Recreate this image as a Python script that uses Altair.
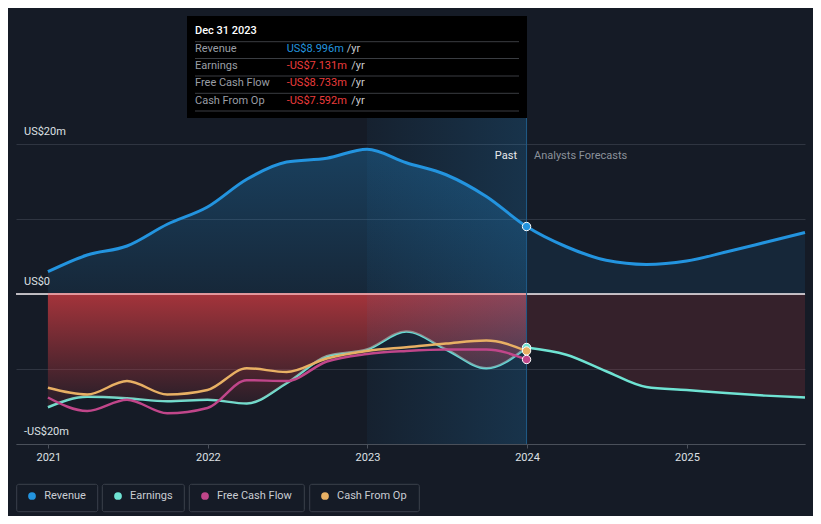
import altair as alt
import pandas as pd

# ---------------- data (US$ millions) ----------------
past_dates = ["2020-12-31", "2021-03-31", "2021-06-30", "2021-09-30", "2021-12-31",
              "2022-03-31", "2022-06-30", "2022-09-30", "2022-12-31", "2023-03-31",
              "2023-06-30", "2023-09-30", "2023-12-31"]
revenue_past = [2.97, 5.2, 6.4, 9.3, 11.6, 15.3, 17.6, 18.1, 19.3, 17.5, 15.9, 13.0, 8.996]
earnings_past = [-15.1, -13.7, -13.9, -14.3, -14.1, -14.6, -11.9, -8.3, -7.4, -5.0, -7.4, -9.9, -7.131]
fcf_past = [-13.8, -15.6, -14.1, -15.9, -15.2, -11.5, -11.6, -9.0, -8.0, -7.6, -7.4, -7.4, -8.733]
cfo_past = [-12.5, -13.4, -11.6, -13.4, -12.8, -9.9, -10.4, -8.6, -7.6, -7.1, -6.6, -6.2, -7.592]

fc_dates = ["2023-12-31", "2024-03-31", "2024-06-30", "2024-09-30", "2024-12-31",
            "2025-03-31", "2025-06-30", "2025-09-28"]
revenue_fc = [8.996, 6.3, 4.5, 3.95, 4.4, 5.6, 6.9, 8.2]
earnings_fc = [-7.131, -8.1, -10.3, -12.4, -12.8, -13.2, -13.55, -13.8]

series_names = ["Revenue", "Earnings", "Free Cash Flow", "Cash From Op"]
series_colors = ["#2394df", "#6fe3d3", "#c0468a", "#e8b064"]

y_label_values = [20, 0, -20]
y_label_texts = ["US$20m", "US$0", "-US$20m"]

tooltip_title = "Dec 31 2023"
tooltip_values = ["US$8.996m", "-US$7.131m", "-US$8.733m", "-US$7.592m"]
tooltip_value_colors = ["#2394df", "#ec3c3c", "#ec3c3c", "#ec3c3c"]

# ---------------- layout ----------------
W, H = 789, 428
PX_PER_M = 7.5
Y_BOTTOM = -20
Y_TOP = Y_BOTTOM + H / PX_PER_M
BG = "#151b26"
FONT = "Roboto"


def dt(s):
    return s + "T00:00:00"


x_scale = alt.Scale(domain=[alt.DateTime(year=2020, month=10, date=19),
                            alt.DateTime(year=2025, month=9, date=28)])
y_scale = alt.Scale(domain=[Y_BOTTOM, Y_TOP], nice=False, zero=False)
x_axis = alt.Axis(values=[alt.DateTime(year=y, month=1, date=1) for y in range(2021, 2026)],
                  format="%Y", title=None, grid=False, labelColor="#dde0e4",
                  labelFontSize=11, labelFont=FONT, domainColor="#4a505a",
                  tickColor="#4a505a", tickSize=4, labelPadding=3)
y_axis = alt.Axis(values=[-20, -10, 0, 10, 20], title=None, grid=True,
                  gridColor="#2f3541", gridWidth=1, labels=False, ticks=False, domain=False)


def X(field="date"):
    return alt.X(f"{field}:T", scale=x_scale, axis=x_axis, title=None)


def Y(field):
    return alt.Y(f"{field}:Q", scale=y_scale, axis=y_axis, title=None)


df_past = pd.DataFrame({
    "date": [dt(d) for d in past_dates],
    "revenue": revenue_past,
    "earnings": earnings_past,
    "fcf": fcf_past,
    "cfo": cfo_past,
    "zero": [0] * len(past_dates),
})
df_fc = pd.DataFrame({
    "date": [dt(d) for d in fc_dates],
    "revenue": revenue_fc,
    "earnings": earnings_fc,
    "zero": [0] * len(fc_dates),
})
df_rev = pd.DataFrame({
    "date": [dt(d) for d in past_dates] + [dt(d) for d in fc_dates[1:]],
    "revenue": revenue_past + revenue_fc[1:],
})

base_past = alt.Chart(df_past)
base_fc = alt.Chart(df_fc)


def vgrad(c0, c1):
    return alt.Gradient(gradient="linear", x1=0, x2=0, y1=0, y2=1,
                        stops=[alt.GradientStop(color=c0, offset=0),
                               alt.GradientStop(color=c1, offset=1)])


rev_area_past = base_past.mark_area(interpolate="monotone",
                                    color=vgrad("rgba(35,148,223,0.30)", "rgba(35,148,223,0.10)")
                                    ).encode(x=X(), y=Y("revenue"), y2="zero:Q")
rev_area_fc = base_fc.mark_area(interpolate="monotone", color="#2394df", opacity=0.1
                                ).encode(x=X(), y=Y("revenue"), y2="zero:Q")

earn_line_past = base_past.mark_line(interpolate="monotone", color=series_colors[1], strokeWidth=2.5
                                     ).encode(x=X(), y=Y("earnings"))
red_area_past = base_past.mark_area(interpolate="monotone",
                                    color=vgrad("rgba(200,58,64,0.80)", "rgba(200,58,64,0.08)")
                                    ).encode(x=X(), y=Y("zero"), y2="earnings:Q")
red_area_fc = base_fc.mark_area(interpolate="monotone", color="#c83c44", opacity=0.18
                                ).encode(x=X(), y=Y("zero"), y2="earnings:Q")

band_df = pd.DataFrame({"start": [dt("2022-12-31")], "end": [dt("2023-12-31")]})
band = alt.Chart(band_df).mark_rect(
    color=alt.Gradient(gradient="linear", x1=0, x2=1, y1=0, y2=0,
                       stops=[alt.GradientStop(color="rgba(35,148,223,0.05)", offset=0),
                              alt.GradientStop(color="rgba(35,148,223,0.20)", offset=1)])
).encode(x=X("start"), x2="end:T", y=alt.value(102), y2=alt.value(H))

zero_df = pd.DataFrame({"zero": [0], "start": [dt(past_dates[0])], "end": [dt(past_dates[-1])]})
zero_rule = alt.Chart(zero_df).mark_rule(color="#f4eef0", strokeWidth=1.5).encode(
    y=Y("zero"), x=alt.value(0), x2=alt.value(W))
zero_rule_past = alt.Chart(zero_df).mark_rule(color="#e98a8e", strokeWidth=1.5).encode(
    y=Y("zero"), x=X("start"), x2="end:T")

now_df = pd.DataFrame({"date": [dt(past_dates[-1])]})
now_rule = alt.Chart(now_df).mark_rule(color="#1f5b88", strokeWidth=1).encode(
    x=X(), y=alt.value(102), y2=alt.value(H))

rev_line = alt.Chart(df_rev).mark_line(interpolate="monotone", color=series_colors[0], strokeWidth=3
                                       ).encode(x=X(), y=Y("revenue"))
fcf_line = base_past.mark_line(interpolate="monotone", color=series_colors[2], strokeWidth=2.5
                               ).encode(x=X(), y=Y("fcf"))
cfo_line = base_past.mark_line(interpolate="monotone", color=series_colors[3], strokeWidth=2.5
                               ).encode(x=X(), y=Y("cfo"))
earn_line_fc = base_fc.mark_line(interpolate="monotone", color=series_colors[1], strokeWidth=2.5
                                 ).encode(x=X(), y=Y("earnings"))

end_df = pd.DataFrame({
    "date": [dt(past_dates[-1])] * 4,
    "value": [revenue_past[-1], earnings_past[-1], cfo_past[-1], fcf_past[-1]],
    "col": [series_colors[0], series_colors[1], series_colors[3], series_colors[2]],
    "order": [0, 1, 2, 3],
})
end_pts = alt.Chart(end_df).mark_point(filled=True, size=70, stroke="white", strokeWidth=1, opacity=1
                                       ).encode(x=X(), y=Y("value"),
                                                fill=alt.Fill("col:N", scale=None),
                                                order="order:Q")

ylab_df = pd.DataFrame({"v": y_label_values, "t": y_label_texts})
ylabels = alt.Chart(ylab_df).mark_text(align="left", baseline="middle", dy=-12, fontSize=11,
                                       color="#dde0e4", font=FONT
                                       ).encode(x=alt.value(8), y=Y("v"), text="t:N")

past_txt = alt.Chart(pd.DataFrame({"t": ["Past"]})).mark_text(
    align="right", baseline="middle", fontSize=11, color="#e8eaed", font=FONT
).encode(x=alt.value(501), y=alt.value(140), text="t:N")
fc_txt = alt.Chart(pd.DataFrame({"t": ["Analysts Forecasts"]})).mark_text(
    align="left", baseline="middle", fontSize=11, color="#8b919a", font=FONT
).encode(x=alt.value(518), y=alt.value(140), text="t:N")

# ---------------- tooltip box ----------------
tip_box = alt.Chart(pd.DataFrame({"a": [0]})).mark_rect(color="#000000").encode(
    x=alt.value(171), x2=alt.value(511), y=alt.value(0), y2=alt.value(102))
tip_title = alt.Chart(pd.DataFrame({"t": [tooltip_title]})).mark_text(
    align="left", baseline="middle", fontSize=11, fontWeight=500, color="#ffffff", font=FONT
).encode(x=alt.value(179), y=alt.value(15), text="t:N")
sep_y = [25.7, 42.5, 60, 77.3, 95]
tip_sep = alt.Chart(pd.DataFrame({"py": sep_y})).mark_rule(color="#3a3d42", strokeWidth=1).encode(
    x=alt.value(179), x2=alt.value(503), y=alt.Y("py:Q", scale=None))
row_y = [33.3, 50, 67.3, 84.7]
yr_x = [330.7, 335.3, 335.3, 335.3]
tip_rows = pd.DataFrame({"name": series_names, "val": tooltip_values, "col": tooltip_value_colors,
                         "py": row_y, "yrx": yr_x, "yr": ["/yr"] * 4})
tip_names = alt.Chart(tip_rows).mark_text(align="left", baseline="middle", fontSize=11,
                                          color="#9a9ea5", font=FONT).encode(
    x=alt.value(179), y=alt.Y("py:Q", scale=None), text="name:N")
tip_vals = alt.Chart(tip_rows).mark_text(align="left", baseline="middle", fontSize=11, font=FONT).encode(
    x=alt.value(270.7), y=alt.Y("py:Q", scale=None), text="val:N",
    color=alt.Color("col:N", scale=None))
tip_yr = alt.Chart(tip_rows).mark_text(align="left", baseline="middle", fontSize=11,
                                       color="#c9cbcf", font=FONT).encode(
    x=alt.X("yrx:Q", scale=None), y=alt.Y("py:Q", scale=None), text="yr:N")

# ---------------- legend ----------------
leg_x1 = [0.7, 86.3, 173.3, 293.7]
leg_x2 = [81.7, 168.3, 288.3, 403.3]
leg_dot_x = [16, 102, 189, 309]
leg_txt_x = [28.3, 114, 201, 321]
leg_df = pd.DataFrame({"name": series_names, "col": series_colors, "x1": leg_x1, "x2": leg_x2,
                       "dx": leg_dot_x, "tx": leg_txt_x})
leg_box = alt.Chart(leg_df).mark_rect(fill=BG, stroke="#3b414c", strokeWidth=1, cornerRadius=2).encode(
    x=alt.X("x1:Q", scale=None), x2="x2:Q", y=alt.value(468.3), y2=alt.value(495.7))
leg_dot = alt.Chart(leg_df).mark_circle(size=60, opacity=1).encode(
    x=alt.X("dx:Q", scale=None), y=alt.value(480), color=alt.Color("col:N", scale=None))
leg_txt = alt.Chart(leg_df).mark_text(align="left", baseline="middle", fontSize=11,
                                      color="#c9cdd3", font=FONT).encode(
    x=alt.X("tx:Q", scale=None), y=alt.value(480), text="name:N")

chart = alt.layer(
    rev_area_past, rev_area_fc,
    earn_line_past, red_area_past, red_area_fc,
    band, zero_rule, zero_rule_past, now_rule,
    rev_line, fcf_line, cfo_line, earn_line_fc, end_pts,
    ylabels, past_txt, fc_txt,
    tip_box, tip_sep, tip_title, tip_names, tip_vals, tip_yr,
    leg_box, leg_dot, leg_txt,
).properties(
    width=W, height=H, background=BG, autosize="none",
    padding={"left": 8, "top": 8, "right": 8, "bottom": 72},
).configure_view(stroke=None)

chart.save("out.html", embed_options={"renderer": "svg", "actions": False})
